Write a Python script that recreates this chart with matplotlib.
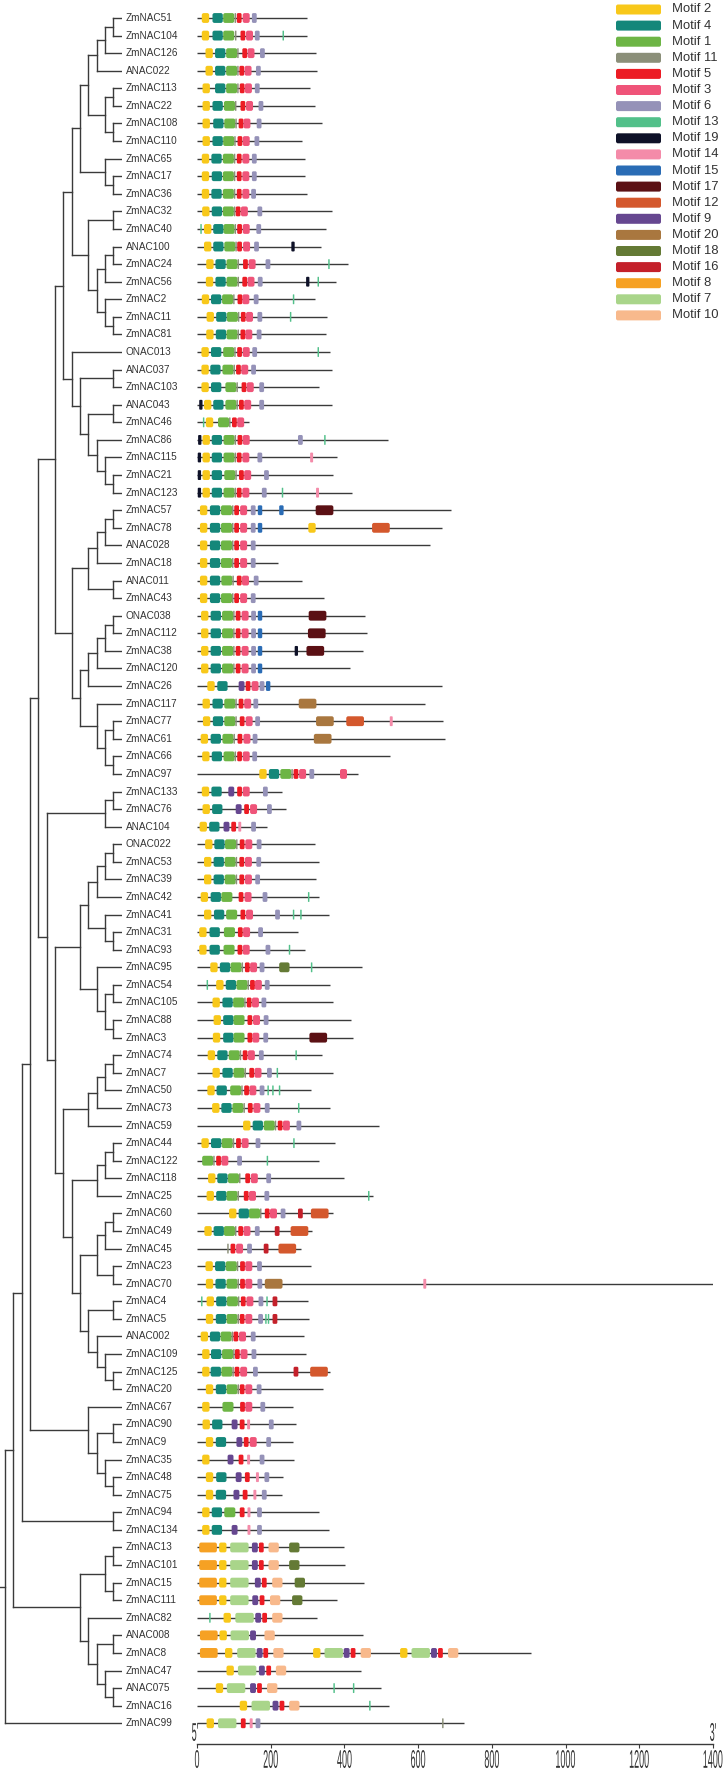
"""
Rekonstruksi gambar pohon filogenetik NAC + struktur motif (gaya MEME).
Kiri: cladogram, kanan: posisi motif pada tiap protein, kanan atas: legenda.
"""

import matplotlib

matplotlib.use("Agg")
import matplotlib.pyplot as plt
from matplotlib.collections import LineCollection
from matplotlib.font_manager import FontProperties
from matplotlib.patches import FancyBboxPatch, PathPatch
from matplotlib.textpath import TextPath
from matplotlib.transforms import Affine2D, IdentityTransform

# --- Motif: urutan legenda, warna, panjang (aa) ---
MOTIF_IDS = [2, 4, 1, 11, 5, 3, 6, 13, 19, 14, 15, 17, 12, 9, 20, 18, 16, 8, 7, 10]
MOTIF_COLORS = ["#F8C81A", "#14877A", "#6DB545", "#8B8F79", "#EC1C24", "#EF5479",
                "#9592B8", "#52C08A", "#0E1128", "#F48BA9", "#2A6CB5", "#5B1014",
                "#D4582D", "#664790", "#A9773F", "#647A35", "#C4202A", "#F6A123",
                "#A9D58A", "#F8B98C"]
MOTIF_WIDTHS = [20, 28, 30, 4, 13, 19, 13, 4, 9, 8, 12, 48, 48, 16, 48, 28, 13, 48, 50, 28]

# --- Pohon (topologi) ---
CLADE_A = "(((((ZmNAC51,ZmNAC104),ZmNAC126),ANAC022),((ZmNAC113,ZmNAC22),(ZmNAC108,ZmNAC110))),(ZmNAC65,(ZmNAC17,ZmNAC36)))"
CLADE_B = "((ZmNAC32,ZmNAC40),(((ANAC100,ZmNAC24),ZmNAC56),(ZmNAC2,(ZmNAC11,ZmNAC81))))"
CLADE_C = "(ONAC013,((ANAC037,ZmNAC103),((ANAC043,ZmNAC46),(ZmNAC86,(ZmNAC115,(ZmNAC21,ZmNAC123))))))"
CLADE_E = "((((ZmNAC57,ZmNAC78),ANAC028),ZmNAC18),(ANAC011,ZmNAC43))"
CLADE_F = "(((((ONAC038,ZmNAC112),ZmNAC38),ZmNAC120),ZmNAC26),(ZmNAC117,((ZmNAC77,ZmNAC61),(ZmNAC66,ZmNAC97))))"
CLADE_I = "((ZmNAC133,ZmNAC76),ANAC104)"
CLADE_J = "((((ONAC022,ZmNAC53),ZmNAC39),ZmNAC42),(ZmNAC41,(ZmNAC31,ZmNAC93)))"
CLADE_K = "(ZmNAC95,((ZmNAC54,ZmNAC105),(ZmNAC88,ZmNAC3)))"
CLADE_L = "((((ZmNAC74,ZmNAC7),ZmNAC50),ZmNAC73),ZmNAC59)"
CLADE_M = "(((ZmNAC44,ZmNAC122),ZmNAC118),ZmNAC25)"
CLADE_N = "((((ZmNAC60,ZmNAC49),ZmNAC45),(ZmNAC23,ZmNAC70)),((ZmNAC4,ZmNAC5),(ANAC002,(ZmNAC109,(ZmNAC125,ZmNAC20)))))"
CLADE_O = "(ZmNAC67,((ZmNAC90,ZmNAC9),(ZmNAC35,(ZmNAC48,ZmNAC75))))"
CLADE_P = "(((ZmNAC13,ZmNAC101),(ZmNAC15,ZmNAC111)),(ZmNAC82,((ANAC008,ZmNAC8),(ZmNAC47,(ANAC075,ZmNAC16)))))"

TREE = ("((((((" + "(((" + CLADE_A + "," + CLADE_B + ")," + CLADE_C + "),(" + CLADE_E + "," + CLADE_F + "))"
        + ",(" + CLADE_I + ",((" + CLADE_J + "," + CLADE_K + "),(" + CLADE_L + ",(" + CLADE_M + "," + CLADE_N + ")))))"
        + "," + CLADE_O + "),(ZmNAC94,ZmNAC134))," + CLADE_P + "),ZmNAC99);")

# --- Gen (urutan dari atas), panjang protein, motif "id:awal" ---
GENES = ["ZmNAC51", "ZmNAC104", "ZmNAC126", "ANAC022", "ZmNAC113", "ZmNAC22", "ZmNAC108",
         "ZmNAC110", "ZmNAC65", "ZmNAC17", "ZmNAC36", "ZmNAC32", "ZmNAC40", "ANAC100",
         "ZmNAC24", "ZmNAC56", "ZmNAC2", "ZmNAC11", "ZmNAC81", "ONAC013", "ANAC037",
         "ZmNAC103", "ANAC043", "ZmNAC46", "ZmNAC86", "ZmNAC115", "ZmNAC21", "ZmNAC123",
         "ZmNAC57", "ZmNAC78", "ANAC028", "ZmNAC18", "ANAC011", "ZmNAC43", "ONAC038",
         "ZmNAC112", "ZmNAC38", "ZmNAC120", "ZmNAC26", "ZmNAC117", "ZmNAC77", "ZmNAC61",
         "ZmNAC66", "ZmNAC97", "ZmNAC133", "ZmNAC76", "ANAC104", "ONAC022", "ZmNAC53",
         "ZmNAC39", "ZmNAC42", "ZmNAC41", "ZmNAC31", "ZmNAC93", "ZmNAC95", "ZmNAC54",
         "ZmNAC105", "ZmNAC88", "ZmNAC3", "ZmNAC74", "ZmNAC7", "ZmNAC50", "ZmNAC73",
         "ZmNAC59", "ZmNAC44", "ZmNAC122", "ZmNAC118", "ZmNAC25", "ZmNAC60", "ZmNAC49",
         "ZmNAC45", "ZmNAC23", "ZmNAC70", "ZmNAC4", "ZmNAC5", "ANAC002", "ZmNAC109",
         "ZmNAC125", "ZmNAC20", "ZmNAC67", "ZmNAC90", "ZmNAC9", "ZmNAC35", "ZmNAC48",
         "ZmNAC75", "ZmNAC94", "ZmNAC134", "ZmNAC13", "ZmNAC101", "ZmNAC15", "ZmNAC111",
         "ZmNAC82", "ANAC008", "ZmNAC8", "ZmNAC47", "ANAC075", "ZmNAC16", "ZmNAC99"]

LENGTHS = [299, 298, 324, 326, 307, 319, 340, 284, 294, 294, 299, 366, 349, 336, 410, 377,
           319, 353, 350, 361, 366, 330, 366, 141, 517, 381, 368, 420, 688, 666, 632, 220,
           285, 345, 455, 460, 451, 415, 665, 619, 668, 673, 524, 437, 230, 242, 190, 321,
           332, 323, 332, 358, 275, 294, 449, 360, 370, 418, 422, 338, 370, 308, 360, 495,
           374, 332, 400, 477, 368, 313, 283, 310, 1400, 302, 305, 291, 297, 361, 341, 261,
           268, 261, 262, 232, 230, 331, 358, 400, 402, 453, 379, 326, 450, 905, 444, 499,
           521, 725]

SITES = [
    "2:13 4:42 1:71 11:102 5:108 3:124 6:149",
    "2:13 4:42 1:71 11:103 5:118 3:133 6:157 13:232",
    "2:23 4:49 1:79 11:109 5:123 3:137 6:171",
    "2:23 4:49 1:79 11:109 5:115 3:129 6:160",
    "2:15 4:49 1:79 11:109 5:116 3:130 6:157",
    "2:15 4:42 1:73 11:103 5:118 3:133 6:167",
    "2:15 4:44 1:74 11:104 5:113 3:126 6:162",
    "2:15 4:42 1:71 11:101 5:110 3:124 6:156",
    "2:13 4:39 1:70 11:100 5:108 3:123 6:149",
    "2:13 4:40 1:70 11:100 5:108 3:123 6:149",
    "2:13 4:39 1:70 11:100 5:108 3:123 6:147",
    "2:14 4:40 1:70 11:100 5:105 3:119 6:164",
    "13:9 2:19 4:44 1:72 11:102 5:109 3:124 6:161",
    "2:19 4:44 1:74 11:104 5:109 3:125 6:155 19:256",
    "2:25 4:50 1:80 11:110 5:125 3:140 6:186 13:356",
    "2:24 4:50 1:80 11:110 5:123 3:137 6:165 19:296 13:327",
    "2:13 4:38 1:68 11:98 5:110 3:123 6:154 13:260",
    "2:26 4:52 1:81 11:111 5:119 3:133 6:164 13:252",
    "2:25 4:51 1:80 11:110 5:118 3:131 6:162",
    "2:12 4:38 1:71 11:101 5:109 3:124 6:150 13:327",
    "2:12 4:36 1:69 11:99 5:106 3:120 6:147",
    "2:12 4:38 1:77 11:107 5:121 3:135 6:169",
    "19:6 2:19 4:44 1:77 11:107 5:114 3:128 6:169",
    "13:16 2:24 1:57 11:87 5:95 3:109",
    "19:3 2:15 4:40 1:72 11:102 5:110 3:124 6:274 13:345",
    "19:2 2:15 4:40 1:72 11:102 5:108 3:123 6:164 14:307",
    "19:2 2:15 4:40 1:74 11:104 5:114 3:128 6:182",
    "19:2 2:15 4:40 1:72 11:102 5:108 3:123 6:176 13:230 14:323",
    "2:8 4:35 1:65 11:95 5:101 3:117 6:146 15:165 15:223 17:322",
    "2:8 4:35 1:65 11:95 5:101 3:117 6:146 15:165 2:302 12:475",
    "2:8 4:35 1:65 11:95 5:101 3:117 6:146",
    "2:8 4:35 1:65 11:95 5:101 3:117 6:146",
    "2:8 4:35 1:66 11:96 5:108 3:122 6:154",
    "2:8 4:35 1:65 11:95 5:101 3:117 6:146",
    "2:11 4:37 1:68 11:98 5:105 3:121 6:147 15:165 17:303",
    "2:11 4:37 1:68 11:98 5:105 3:121 6:147 15:165 17:301",
    "2:11 4:37 1:68 11:98 5:105 3:121 6:147 15:165 19:265 17:297",
    "2:11 4:37 1:68 11:98 5:105 3:121 6:147 15:165",
    "2:28 4:55 9:113 5:132 3:148 6:170 15:187",
    "2:15 4:42 1:74 11:104 5:113 3:128 6:153 20:276",
    "2:16 4:43 1:74 11:104 5:116 3:132 6:158 20:323 12:405 14:523",
    "2:10 4:37 1:69 11:99 5:110 3:126 6:151 20:317",
    "2:14 4:40 1:72 11:102 5:109 3:124 6:150",
    "2:169 4:195 1:226 11:256 5:262 3:277 6:305 3:388",
    "2:13 4:39 9:85 5:109 3:124 6:179",
    "2:15 4:41 9:105 5:128 3:144 6:190",
    "2:7 4:33 9:72 5:93 14:112 6:147",
    "2:22 4:47 1:76 11:106 5:116 3:131 6:162",
    "2:19 4:45 1:75 11:105 5:115 3:130 6:161",
    "2:19 4:45 1:75 11:105 5:115 3:130 6:158",
    "2:10 4:37 1:66 5:113 3:129 6:178 13:301",
    "2:19 4:46 1:79 5:118 3:133 6:212 13:260 13:280",
    "2:6 4:34 1:73 5:111 3:125 6:166",
    "2:6 4:34 1:72 5:110 3:124 6:186 13:249",
    "2:36 4:62 1:91 11:121 5:130 3:144 6:170 18:223 13:309",
    "13:26 2:52 4:78 1:107 11:137 5:144 3:157 6:184",
    "2:42 4:69 1:98 11:128 5:135 3:149 6:175",
    "2:45 4:71 1:99 5:137 3:152 6:181",
    "2:43 4:71 1:99 5:137 3:150 6:180 17:305",
    "2:29 4:55 1:86 11:116 5:124 3:138 6:168 13:267",
    "2:42 4:69 1:99 11:129 5:142 3:156 6:190 13:216",
    "2:28 4:53 1:90 11:120 5:128 3:142 6:170 13:191 13:204 13:222",
    "2:41 4:66 1:96 11:126 5:138 3:153 6:184 13:274",
    "2:125 4:151 1:181 11:211 5:219 3:233 6:270",
    "2:12 4:38 1:67 11:97 5:106 3:121 6:159 13:261",
    "1:14 11:44 5:52 3:66 6:109 13:189",
    "2:30 4:55 1:84 11:114 5:131 3:146 6:188",
    "2:26 4:52 1:80 11:110 5:127 3:141 6:183 13:464",
    "2:87 4:113 1:141 11:171 5:184 3:198 6:227 16:274 12:309",
    "2:20 4:45 1:73 11:103 5:112 3:126 6:157 16:211 12:254",
    "11:82 5:91 3:106 6:136 16:181 12:221",
    "2:23 4:49 1:78 11:108 5:117 3:131 6:163",
    "2:24 4:50 1:80 11:110 5:117 3:131 6:164 20:184 14:614",
    "13:11 2:26 4:52 1:81 11:111 5:119 3:134 6:167 13:188 16:205",
    "2:24 4:51 1:80 11:110 5:116 3:131 6:166 13:185 13:192 16:205",
    "2:10 4:35 1:64 11:94 5:99 3:114 6:146",
    "2:14 4:38 1:68 11:98 5:103 3:118 6:148",
    "2:14 4:37 1:66 11:96 5:102 3:117 6:152 16:262 12:307",
    "2:24 4:51 1:80 11:110 5:116 3:131 6:162",
    "2:14 1:69 5:117 3:131 6:172",
    "2:15 4:41 9:94 5:116 14:136 6:195",
    "2:24 4:51 9:107 5:127 3:143 6:188",
    "2:14 9:83 5:113 14:136 6:170",
    "2:24 4:52 9:105 5:130 14:160 6:183",
    "2:24 4:51 9:99 5:124 14:153 6:176",
    "2:14 4:40 1:74 5:116 14:137 6:163",
    "2:14 4:40 9:94 14:137 6:163",
    "8:6 2:60 7:90 9:149 5:168 10:194 18:250",
    "8:6 2:60 7:90 9:149 5:168 10:194 18:250",
    "8:6 2:60 7:90 9:157 5:176 10:204 18:265",
    "8:6 2:60 7:90 9:150 5:170 10:198 18:258",
    "13:33 2:72 7:104 9:158 5:177 10:204",
    "8:8 2:61 7:91 9:144 10:183",
    "8:8 2:76 7:109 9:162 5:180 10:207 2:315 7:346 9:398 5:417 10:444 "
    "2:551 7:582 9:635 5:654 10:681",
    "2:80 7:111 9:168 5:188 10:214",
    "2:51 7:81 9:144 5:163 10:190 13:370 13:423",
    "2:116 7:148 9:205 5:224 10:250 13:467",
    "2:26 7:57 5:119 14:143 6:159 11:665",
]

AXIS_TICKS = [0, 200, 400, 600, 800, 1000, 1200, 1400]

# --- Tata letak (piksel, 726x1770 @ 100 dpi) ---
W, H = 726, 1770
ROW0, ROWSTEP = 18.0, 17.58  # y piksel baris pertama dan jarak antarbaris
AXIS_Y = 1744.0              # garis sumbu skala aa
LEAF_X, NODE_STEP = 121.5, 8.333
X0, X1 = 197.0, 713.0        # posisi 0 dan 1400 aa
LINE_COLOR = "#3a3a3a"
TEXT_COLOR = "#333333"

plt.rcParams["font.family"] = ["Liberation Sans", "DejaVu Sans"]


def parse_newick(s):
    pos = 0

    def node():
        nonlocal pos
        if s[pos] == "(":
            pos += 1
            kids = [node()]
            while s[pos] == ",":
                pos += 1
                kids.append(node())
            pos += 1
            return kids
        start = pos
        while s[pos] not in ",();":
            pos += 1
        return s[start:pos]

    return node()


def parse_sites(txt):
    out = []
    for tok in txt.split():
        m, st = tok.split(":")
        out.append((int(m), float(st)))
    return out


fig = plt.figure(figsize=(W / 100, H / 100), dpi=100)
ax_h = AXIS_Y / H
ylim = ((AXIS_Y - ROW0) / ROWSTEP, -ROW0 / ROWSTEP)

# ---------- pohon ----------
ax_t = fig.add_axes([0, 1 - ax_h, LEAF_X / W, ax_h])
ax_t.set_xlim(LEAF_X / NODE_STEP, 0)
ax_t.set_ylim(*ylim)
ax_t.axis("off")

segs = []


def draw(node):
    if isinstance(node, str):
        return 0, GENES.index(node)
    res = [draw(k) for k in node]
    h = 1 + max(r[0] for r in res)
    ys = [r[1] for r in res]
    for hk, yk in res:
        segs.append([(h, yk), (hk, yk)])
    segs.append([(h, ys[0]), (h, ys[-1])])
    return h, (ys[0] + ys[-1]) / 2


draw(parse_newick(TREE))
ax_t.add_collection(LineCollection(segs, colors=LINE_COLOR, linewidths=1.0,
                                   capstyle="projecting"))
for i, name in enumerate(GENES):
    ax_t.text(-0.48, i, name, ha="left", va="center", fontsize=7.2,
              color=TEXT_COLOR, clip_on=False)

# ---------- struktur motif ----------
ax_m = fig.add_axes([X0 / W, 1 - ax_h, (X1 - X0) / W, ax_h])
ax_m.set_xlim(0, 1400)
ax_m.set_ylim(*ylim)
for side in ["top", "right", "left"]:
    ax_m.spines[side].set_visible(False)
ax_m.spines["bottom"].set_color(LINE_COLOR)
ax_m.spines["bottom"].set_linewidth(1.0)
ax_m.set_yticks([])
ax_m.set_xticks(AXIS_TICKS)
ax_m.set_xticklabels([])
ax_m.tick_params(axis="x", direction="out", length=3, width=0.8, color=LINE_COLOR)

ax_m.hlines(range(len(GENES)), 0, LENGTHS, color=LINE_COLOR, linewidth=1.0, zorder=1)

px_per_aa = (X1 - X0) / 1400
aspect = px_per_aa / ROWSTEP
BOX_H = 0.56
for i, txt in enumerate(SITES):
    for m, st in parse_sites(txt):
        k = MOTIF_IDS.index(m)
        wd = MOTIF_WIDTHS[k]
        rs = min(2.0 / px_per_aa, wd * 0.3)
        ax_m.add_patch(FancyBboxPatch(
            (st, i - BOX_H / 2), wd, BOX_H,
            boxstyle=f"round,pad=0,rounding_size={rs}",
            mutation_aspect=aspect, facecolor=MOTIF_COLORS[k],
            edgecolor="none", zorder=2, clip_on=False))

# label sumbu bergaya huruf sempit tinggi (TextPath diregangkan vertikal)
fp = FontProperties(family="Liberation Sans")


def narrow_text(s, xd, yd, anchor_top=True):
    tp = TextPath((0, 0), s, size=10, prop=fp)
    bb = tp.get_extents()
    dy = -bb.y1 if anchor_top else -bb.y0
    tr = (Affine2D().translate(-(bb.x0 + bb.x1) / 2, dy)
          .scale(0.9, 2.55).translate(xd, yd))
    fig.add_artist(PathPatch(tr.transform_path(tp), transform=IdentityTransform(),
                             facecolor=TEXT_COLOR, edgecolor="none"))


for v in AXIS_TICKS:
    xd, yd = ax_m.transData.transform((v, ylim[0]))
    narrow_text(str(v), xd, yd - 6, anchor_top=True)

xd, yd = ax_m.transData.transform((0, ylim[0]))
narrow_text("5'", xd - 2, yd + 3, anchor_top=False)
xd, yd = ax_m.transData.transform((1400, ylim[0]))
narrow_text("3'", xd, yd + 3, anchor_top=False)

# ---------- legenda ----------
ax_l = fig.add_axes([0, 0, 1, 1])
ax_l.set_xlim(0, W)
ax_l.set_ylim(H, 0)
ax_l.axis("off")
for k, (m, col) in enumerate(zip(MOTIF_IDS, MOTIF_COLORS)):
    yc = 9.5 + 16.1 * k
    ax_l.add_patch(FancyBboxPatch((616, yc - 5), 45, 10,
                                  boxstyle="round,pad=0,rounding_size=2",
                                  facecolor=col, edgecolor="none"))
    ax_l.text(672, yc, f"Motif {m}", ha="left", va="center", fontsize=9.4,
              color=TEXT_COLOR)

fig.savefig("out.png", dpi=100)
